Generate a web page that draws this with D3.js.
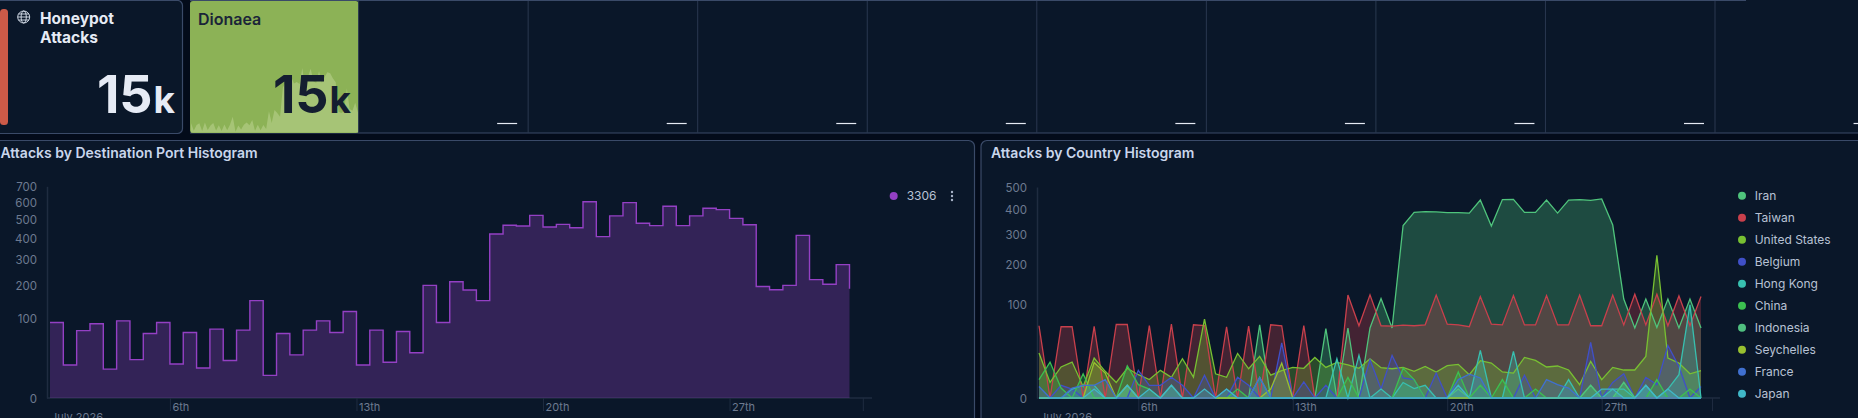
<!DOCTYPE html>
<html><head><meta charset="utf-8">
<script src="https://d3js.org/d3.v7.min.js"></script>
<style>
html,body{margin:0;padding:0;background:#030b1a;overflow:hidden}
svg{display:block}
text{font-family:Inter,"Noto Sans",sans-serif}
</style></head><body>
<svg id="c" width="1858" height="418"></svg>
<script>
const portName = "3306";
const portValues = [89,17,71,86,13,93,23,65,89,18,67,14,74,22,72,148,8,65,29,72,93,67,117,17,72,20,69,32,198,89,211,182,148,420,466,462,521,457,471,453,602,407,518,596,477,464,574,464,518,562,554,504,469,194,183,198,413,219,202,278,186];
const countryNames = ["Iran","Taiwan","United States","Belgium","Hong Kong","China","Indonesia","Seychelles","France","Japan"];
const countryColors = ["#4fc47c","#c9404c","#78c032","#4050c8","#38c0b0","#3cc050","#50c080","#98c030","#4070d0","#40b8c8"];
const iran = [0,0,0,0,0,0,0,0,0,0,0,0,0,0,0,0,0,0,0,0,60,0,0,0,0,0,54,0,55,0,55,111,55,334,387,390,389,386,386,384,440,332,442,443,387,387,440,384,440,442,439,445,336,110,55,110,56,110,55,110,55];
const taiwan = [58.6,0,57,57,0,57.5,0,60.7,60.7,0,59,0,61.3,0,60.2,59,0,57,0,58,0,60.2,58.6,0,59,0,0,0,119,58.6,119.5,58.6,58,59.7,58.6,60.2,119,61.3,60.2,57,115.7,61.3,60,118,60,60,118,60,60,119,58.6,58.6,119,60,121,60,121,58.6,117,58.6,115.7];
const unitedStates = [22.7,2.7,10.8,14.5,1.5,17.9,8,2.7,9.9,6.1,3.8,8.6,4.8,17.3,4.9,70,6.6,4.8,22.3,9.6,19.4,5.9,8.4,10.5,9.9,18.5,10.5,14.2,12.4,9.9,17.3,10.3,9.6,10.5,8,11.2,7.6,11.7,12.7,6.1,15.6,13.7,7.6,7,18.5,15.9,10.8,11.5,8.8,2,15,3.8,10.5,8.8,8.8,19.4,229,17.9,13.7,6.6,8.4];
const belgium = [0,0,1.8,0.9,0,0,0,0,0,8.6,1.8,1.8,4.8,1.8,0,5.8,0,0,4.8,1.8,0,0,34,0,2.9,0,1.8,0,0,0,16.4,0.9,20.4,4.5,3.8,0,7,0,0,0,0,0,0,0,5.8,0,0,0,0,0,34.7,0,2.7,6.6,0,4.8,2,31,11.2,0,1.5];
const hongKong = [0,0,0,0.9,1.8,1.8,0,0,1.8,0,0,0,0,0,0,0,0,0,0,0,0,0,0,0,0,0,0,17.3,0,20.4,0,0.9,0,2.7,1,1.8,0,0,0,0,25.4,0,0,24.4,0,0,0,0,3.8,0,0,0,0.9,0.9,0,1.8,0,0.9,6.1,97.5,0];
const china = [3.8,14.5,1.1,0,6.6,0,0,0,11.7,2,0.9,0,0,0,0,0,0,0,0.9,0,0,0,0,0,0,0,0,0,4.8,0,0,0,0,10,3.8,0,0,0,7.6,0,1.8,0,3.8,0,0,0.9,0,0,0,0,1.8,0,0,2.7,0,0,3.8,0,0,0.9,0];
const indonesia = [0,0,0,0,0,0,0,0,0,0,0,0,1.8,0,0,0,0,0,0,0,4.8,0,0,0,0,0,0,0,0,0,0,0,0,0,0,0,0,0,0.9,0,0,0,0,0,0,0,0,0,0,0,1.8,0,0,2.7,0,0,0,0,0,0,0];
const seychelles = [0,0,0,0,0,14.2,7,0,1.8,0,0,0,0,0,0,0,0,0,0,0,0,0.9,13.7,0,0,0,0,0,0,0,0,0,0,0,0,0,0,0,0,0,0,0,0,0,0,0,0,0,0,0,0,0,0,0,0,0,0,0,0,0,0,0,0];
const france = [1.5,0,0,1.1,1.8,1.8,3.8,0,0,0,0,0,0,0,0,0,0,0.9,0,0,4.8,0,0,0,0,0,0,0,0,0,0,0,0,0,0,0,0,0,3.8,6.4,4.5,0,0,0,0,0,3.8,2,1.1,0,0,0,0,0,0,0,0,0,0,0,0];
const japan = [0,0,0,0,0,0.9,0,0,1.8,0,0.9,0,1.8,0,0,0.9,0,0.9,0,0,0,0,0,0,0,0,0,0,0,0,0,0,0,0,0,0,0,0,1.8,0,0,0,0,0,0,0,0,0,0,0,0,0.9,0.9,0,0,1.8,0,0.9,0,0,0];
const countrySeries = [iran,taiwan,unitedStates,belgium,hongKong,china,indonesia,seychelles,france,japan];
const portTicks = [0,100,200,300,400,500,600,700];
const countryTicks = [0,100,200,300,400,500];
const dayTicks = [["2026-07-06","6th"],["2026-07-13","13th"],["2026-07-20","20th"],["2026-07-27","27th"],["2026-08-01",""]];
const tileLabels = ["Honeypot","Attacks"];
const statMain = "15", statUnit = "k";
const emptyTileCount = 8;

const BG="#0a1729",BORDER="#3a4a68",AXIS="#1f2c40",TICK="#6d7a90";
const start=Date.UTC(2026,6,1,12), step=12*3600e3;
const times=portValues.map((d,i)=>new Date(start+i*step));
const svg=d3.select("#c");

function panel(x,y,w,h,r){svg.append("rect").attr("x",x).attr("y",y).attr("width",w).attr("height",h).attr("rx",r).attr("fill",BG).attr("stroke",BORDER).attr("stroke-width",1.2);}
panel(-10,140.5,984.5,300,6);
panel(981,140.5,900,300,6);
panel(-10,0.5,192.5,133,5);
svg.append("rect").attr("x",190).attr("y",0).attr("width",1668).attr("height",133).attr("fill",BG);
svg.append("line").attr("x1",190).attr("x2",1746).attr("y1",0.5).attr("y2",0.5).attr("stroke",BORDER).attr("stroke-width",1.2);
svg.append("line").attr("x1",190).attr("x2",1858).attr("y1",133).attr("y2",133).attr("stroke",BORDER).attr("stroke-width",1.2);
svg.append("rect").attr("x",0).attr("y",9).attr("width",8).attr("height",116).attr("rx",3.5).attr("fill","#cc5a48");
const g=svg.append("g").attr("transform","translate(23.7,17)").attr("fill","none").attr("stroke","#dfe6f2").attr("stroke-width",0.9);
g.append("circle").attr("r",6);
g.append("ellipse").attr("rx",2.6).attr("ry",6);
g.append("path").attr("d","M-6 0H6M-5.2 -3H5.2M-5.2 3H5.2");
tileLabels.forEach((t,i)=>svg.append("text").attr("x",40).attr("y",24+i*18.5).attr("font-size",15.5).attr("font-weight",700).attr("fill","#e6ebf5").text(t));
function stat(x,color){
  const t=svg.append("text").attr("x",x).attr("y",113).attr("text-anchor","end").attr("fill",color).attr("font-weight",700);
  t.append("tspan").attr("font-size",52).text(statMain);
  t.append("tspan").attr("font-size",37).attr("dx",1).text(statUnit);
}
stat(175,"#e6ebf5");
svg.append("rect").attr("x",190).attr("y",1).attr("width",168.6).attr("height",132).attr("rx",3).attr("fill","#8cb256");
const sx=d3.scaleUtc().domain([times[0],times[60]]).range([191,358]);
const sy=d3.scaleLinear().domain([0,d3.max(portValues)]).range([132.5,68]);
svg.append("path").datum(portValues).attr("fill","#a6c476")
  .attr("d",d3.area().x((d,i)=>sx(times[i])).y0(132.5).y1(d=>sy(d)));
svg.append("text").attr("x",198).attr("y",25).attr("font-size",16).attr("font-weight",600).attr("fill","#1a2438").text("Dionaea");
stat(351,"#141e30");
d3.range(emptyTileCount+1).forEach(i=>{
  const x=358.6+i*169.55;
  svg.append("line").attr("x1",x).attr("x2",x).attr("y1",1).attr("y2",133).attr("stroke","#2a3850").attr("stroke-width",1);
  svg.append("line").attr("x1",x+169.55-31).attr("x2",x+169.55-11).attr("y1",123.5).attr("y2",123.5).attr("stroke","#e6ebf5").attr("stroke-width",1.2);
});

function axes(xs,ys,ticks,axisX,axisEnd,titleText,titleX){
  svg.append("text").attr("x",titleX).attr("y",158).attr("font-size",14).attr("font-weight",600).attr("fill","#c9d6ec").text(titleText);
  const ya=svg.append("g").attr("transform",`translate(${axisX},0)`).call(d3.axisLeft(ys).tickValues(ticks).tickSize(0).tickPadding(10));
  ya.select(".domain").attr("stroke",AXIS).attr("stroke-width",1.5);
  ya.selectAll("text").attr("fill",TICK).attr("font-size",11.5).attr("font-family","Inter").attr("dy","0.38em");
  const xa=svg.append("g").attr("transform","translate(0,398)").call(d3.axisBottom(xs).tickValues(dayTicks.map(d=>new Date(d[0]+"T00:00:00Z"))).tickFormat((d,i)=>dayTicks[i][1]).tickSize(13).tickSizeOuter(0));
  xa.select(".domain").remove();
  xa.selectAll("line").attr("stroke",AXIS);
  xa.selectAll("text").attr("fill",TICK).attr("font-size",11).attr("font-family","Inter").attr("text-anchor","start").attr("x",2).attr("y",5).attr("dy","0.71em");
  svg.append("line").attr("x1",axisX).attr("x2",axisEnd).attr("y1",398).attr("y2",398).attr("stroke",AXIS).attr("stroke-width",1.5);
  svg.append("text").attr("x",xs(times[0])+1).attr("y",421).attr("font-size",11).attr("fill",TICK).text("July 2026");
}

const px=d3.scaleUtc().domain([times[0],times[60]]).range([50,849.5]);
const py=d3.scaleSqrt().domain([0,700]).range([398,186.3]);
axes(px,py,portTicks,47,872,"Attacks by Destination Port Histogram",0.5);
const PURPLE="#9440c4";
svg.append("path").datum(portValues).attr("fill",PURPLE).attr("fill-opacity",0.3)
  .attr("d",d3.area().curve(d3.curveStepAfter).x((d,i)=>px(times[i])).y0(398).y1(d=>py(d)));
svg.append("path").datum(portValues).attr("fill","none").attr("stroke",PURPLE).attr("stroke-width",1.4)
  .attr("d",d3.line().curve(d3.curveStepAfter).x((d,i)=>px(times[i])).y(d=>py(d)));
svg.append("circle").attr("cx",893.7).attr("cy",196).attr("r",4).attr("fill",PURPLE);
svg.append("text").attr("x",906.7).attr("y",200.3).attr("font-size",12).attr("fill","#b8c2d4").text(portName);
[-4,0,4].forEach(d=>svg.append("circle").attr("cx",952).attr("cy",196+d).attr("r",1.2).attr("fill","#a8b4c8"));

const cx=d3.scaleUtc().domain([times[0],times[60]]).range([1039,1701]);
const cy=d3.scaleSqrt().domain([0,500]).range([398,187]);
axes(cx,cy,countryTicks,1037,1720,"Attacks by Country Histogram",991);
countrySeries.forEach((vals,k)=>{
  svg.append("path").datum(vals).attr("fill",countryColors[k]).attr("fill-opacity",0.3)
    .attr("d",d3.area().x((d,i)=>cx(times[i])).y0(398).y1(d=>cy(d)));
});
countrySeries.forEach((vals,k)=>{
  svg.append("path").datum(vals).attr("fill","none").attr("stroke",countryColors[k]).attr("stroke-width",1.3)
    .attr("d",d3.line().x((d,i)=>cx(times[i])).y(d=>cy(d)));
});
countryNames.forEach((n,k)=>{
  const y=195.7+k*22;
  svg.append("circle").attr("cx",1742).attr("cy",y).attr("r",4).attr("fill",countryColors[k]);
  svg.append("text").attr("x",1754.7).attr("y",y+4.3).attr("font-size",12).attr("fill","#b8c2d4").text(n);
});
</script>
</body></html>
